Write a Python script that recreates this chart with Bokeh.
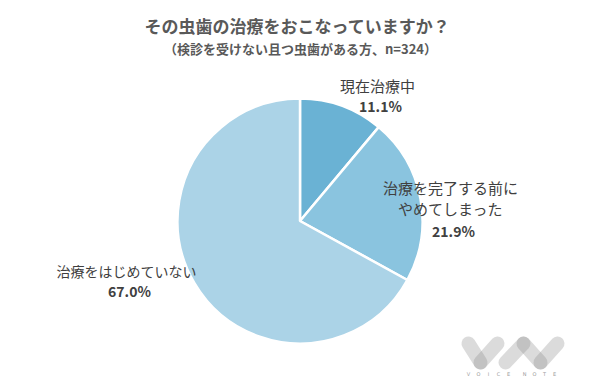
import math
from bokeh.plotting import figure
from bokeh.models import Range1d, ColumnDataSource
from bokeh.core.properties import value
from bokeh.embed import file_html
from bokeh.resources import INLINE

# ---- data ----
categories = ["現在治療中", "治療を完了する前に\nやめてしまった", "治療をはじめていない"]
percents = [11.1, 21.9, 67.0]
colors = ["#6AB2D4", "#8AC4DF", "#ABD3E7"]
title_text = "その虫歯の治療をおこなっていますか？"
subtitle_text = "（検診を受けない且つ虫歯がある方、n=324）"

W, H = 600, 385
FONT = "Noto Sans CJK JP"


def fx(X):
    return X


def fy(Y):
    return H - Y


p = figure(width=W, height=H, output_backend="svg", toolbar_location=None,
           x_range=Range1d(0, W), y_range=Range1d(0, H),
           x_axis_location=None, y_axis_location=None, min_border=0)
p.outline_line_color = None
p.grid.visible = False
p.background_fill_color = "white"
p.border_fill_color = "white"

# ---- title ----
p.text(x=[fx(297)], y=[fy(25)], text=[title_text], text_font=value(FONT),
       text_font_size="17px", text_font_style="bold", text_color="#595959",
       text_align="center", text_baseline="middle")
p.text(x=[fx(300)], y=[fy(48)], text=[subtitle_text], text_font=value(FONT),
       text_font_size="13px", text_font_style="bold", text_color="#595959",
       text_align="center", text_baseline="middle")

# ---- pie ----
total = sum(percents)
starts, ends = [], []
cum = 0.0
for v in percents:
    starts.append(math.pi / 2 - 2 * math.pi * cum / total)
    cum += v
    ends.append(math.pi / 2 - 2 * math.pi * cum / total)

src = ColumnDataSource(dict(start=starts, end=ends, color=colors))
p.wedge(x=fx(299.5), y=fy(220.5), radius=122.5, start_angle="start", end_angle="end",
        direction="clock", fill_color="color", line_color="white", line_width=2.5,
        source=src)

# ---- labels (page px): center x, first line y, percent y, font size ----
label_pos = [(377, 85, 105, 15), (450, 187, 230, 15), (126, 270, 290, 14)]
line_gap = 21

for cat, pct, (lx, ly, py, fs) in zip(categories, percents, label_pos):
    for i, ln in enumerate(cat.split("\n")):
        p.text(x=[fx(lx)], y=[fy(ly + i * line_gap)], text=[ln], text_font=value(FONT),
               text_font_size=f"{fs}px", text_color="#404040",
               text_align="center", text_baseline="middle")
    p.text(x=[fx(lx + 3)], y=[fy(py)], text=[f"{pct:.1f}%"], text_font=value(FONT),
           text_font_size="14px", text_font_style="bold", text_color="#404040",
           text_align="center", text_baseline="middle")

# ---- watermark logo ----
pills = [((468, 343), (480, 362)), ((480, 362), (497, 343)),
         ((505, 362), (523, 343)), ((523, 343), (540, 362)), ((540, 362), (557, 343))]
for (x0, y0), (x1, y1) in pills:
    p.line(x=[fx(x0), fx(x1)], y=[fy(y0), fy(y1)], line_width=14, line_cap="round",
           line_color="#888888", line_alpha=0.3)
letters = list("VOICE") + list("NOTE")
letter_x = [468, 478, 488, 498, 508, 524, 534, 544, 554]
p.text(x=[fx(v) for v in letter_x], y=[fy(373)] * len(letters), text=letters,
       text_font=value("DejaVu Sans"), text_font_size="5px", text_color="#9a9a9a",
       text_align="center", text_baseline="middle")

open("out.html", "w").write(file_html(p, INLINE))
